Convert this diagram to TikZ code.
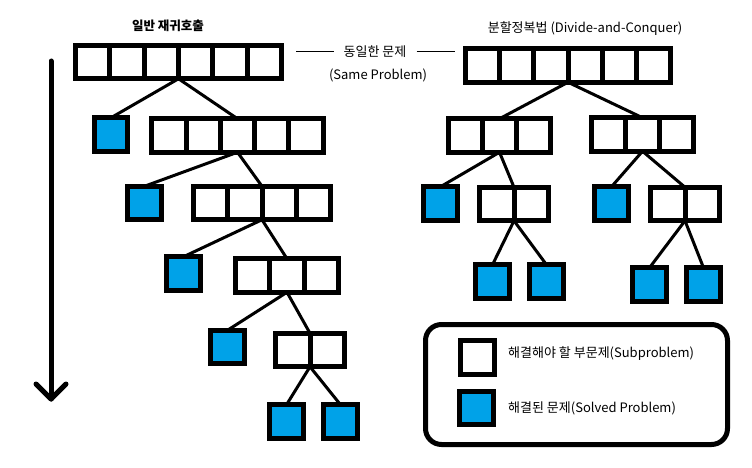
\documentclass[tikz,border=0pt]{standalone}
\usepackage{fontspec}
\setmainfont{Noto Sans CJK KR}
\usetikzlibrary{calc}
\definecolor{solved}{RGB}{0,162,232}
\tikzset{
  cellbox/.style={draw=black, line width=5pt, inner sep=0pt, outer sep=0pt,
    minimum height=33.5pt, fill=white},
  bluebox/.style={cellbox, fill=solved, minimum width=33.5pt},
  divider/.style={draw=black, line width=5pt},
  conn/.style={draw=black, line width=3pt},
  thinline/.style={draw=black, line width=1pt},
  lbl/.style={font=\fontsize{13}{15}\selectfont, inner sep=0pt},
  ttl/.style={font=\fontsize{13}{15}\selectfont, inner sep=0pt},
}
% name, cx, cy, n, n-1
\newcommand{\cellarr}[5]{%
  \node[cellbox, minimum width=#4*34.3pt] (#1) at (#2,#3) {};
  \foreach \k in {1,...,#5}{
    \draw[divider] ($(#1.north west)!{\k/#4}!(#1.north east)$) -- ($(#1.south west)!{\k/#4}!(#1.south east)$);
  }%
}
\begin{document}
\begin{tikzpicture}[x=1pt,y=-1pt]
\useasboundingbox (0,0) rectangle (752,468);

% titles
\node[ttl, font=\fontsize{12.5}{14}\selectfont\bfseries] (t1) at (168,26) {일반 재귀호출};
\node[ttl] (t2) at (585,29) {분할정복법 (Divide-and-Conquer)};

% same problem label
\node[lbl] (same) at (375,52) {동일한 문제};
\node[lbl] (sameen) at (378,75) {(Same Problem)};
\coordinate (sl) at (296,52);
\coordinate (sr) at (455,52);
\draw[thinline] (sl) -- ([xshift=-9pt]same.west);
\draw[thinline] ([xshift=10pt]same.east) -- (sr);

% time arrow
\coordinate (at) at (51,61);
\coordinate (ab) at (51,399);
\coordinate (al) at (36,384);
\coordinate (ar) at (66,384);
\draw[line width=5pt, line cap=round, line join=round] (at) -- (ab);
\draw[line width=5pt, line cap=round, line join=round] (al) -- (ab) -- (ar);

% ---------- left tree ----------
\cellarr{A6}{178.5}{62}{6}{5}
\node[bluebox] (B1) at (111,134.5) {};
\cellarr{A5}{237.5}{135.5}{5}{4}
\node[bluebox] (B2) at (144.5,203) {};
\cellarr{A4}{262}{203}{4}{3}
\node[bluebox] (B3) at (183.5,273.5) {};
\cellarr{A3}{287}{275.5}{3}{2}
\node[bluebox] (B4) at (227.5,347) {};
\cellarr{A2}{310}{350}{2}{1}
\node[bluebox] (B5) at (286.5,421.5) {};
\node[bluebox] (B6) at (340.5,421.5) {};

\draw[conn] (A6.south) -- (B1.north);
\draw[conn] (A6.south) -- (A5.north);
\draw[conn] (A5.south) -- (B2.north);
\draw[conn] (A5.south) -- (A4.north);
\draw[conn] (A4.south) -- (B3.north);
\draw[conn] (A4.south) -- (A3.north);
\draw[conn] (A3.south) -- (B4.north);
\draw[conn] (A3.south) -- (A2.north);
\draw[conn] (A2.south) -- (B5.north);
\draw[conn] (A2.south) -- (B6.north);

% ---------- right tree ----------
\cellarr{R6}{568}{65.5}{6}{5}
\cellarr{RL3}{499.5}{135.5}{3}{2}
\cellarr{RR3}{642.5}{134.5}{3}{2}
\node[bluebox] (RLB) at (440.5,203.5) {};
\cellarr{RL2}{514}{204}{2}{1}
\node[bluebox] (RRB) at (611.5,203.5) {};
\cellarr{RR2}{685}{204}{2}{1}
\node[bluebox] (RLB1) at (492.5,281.5) {};
\node[bluebox] (RLB2) at (546.5,281.5) {};
\node[bluebox] (RRB1) at (649.5,284.5) {};
\node[bluebox] (RRB2) at (703.5,284.5) {};

\draw[conn] (R6.south) -- (RL3.north);
\draw[conn] (R6.south) -- (RR3.north);
\draw[conn] (RL3.south) -- (RLB.north);
\draw[conn] (RL3.south) -- (RL2.north);
\draw[conn] (RR3.south) -- (RRB.north);
\draw[conn] (RR3.south) -- (RR2.north);
\draw[conn] (RL2.south) -- (RLB1.north);
\draw[conn] (RL2.south) -- (RLB2.north);
\draw[conn] (RR2.south) -- (RRB1.north);
\draw[conn] (RR2.south) -- (RRB2.north);

% ---------- legend ----------
\node[draw=black, line width=5pt, rounded corners=16pt, minimum width=302pt,
  minimum height=120pt, inner sep=0pt] (legend) at (576.5,384.5) {};
\node[cellbox, minimum width=33.5pt] (lw) at (477.5,357.5) {};
\node[bluebox] (lb) at (476.5,408) {};
\node[lbl, anchor=west] (lwt) at (508,354) {해결해야 할 부문제(Subproblem)};
\node[lbl, anchor=west] (lbt) at (508,408) {해결된 문제(Solved Problem)};
\end{tikzpicture}
\end{document}
